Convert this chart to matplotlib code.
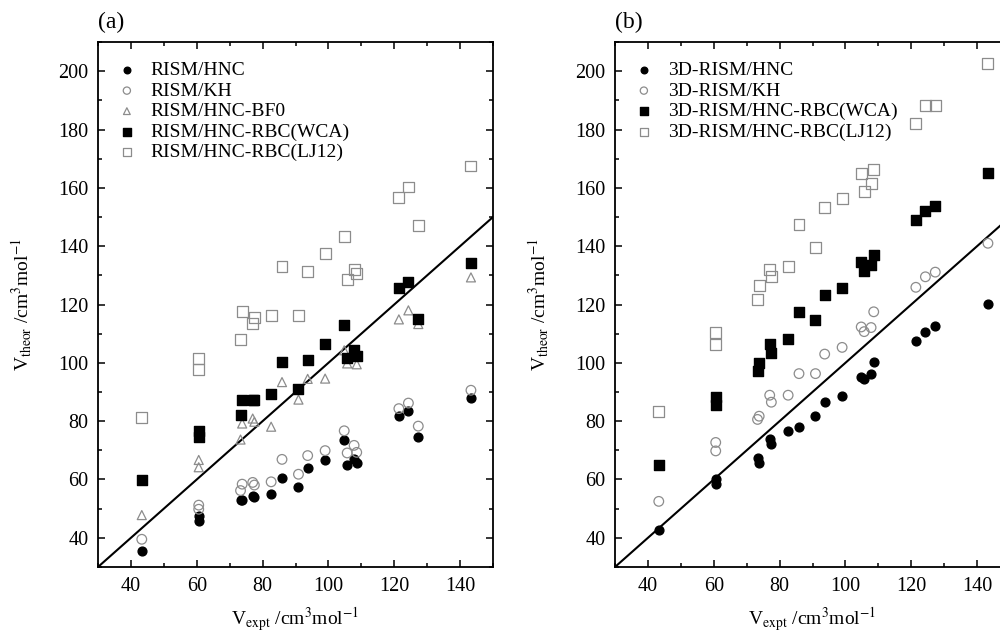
import matplotlib
matplotlib.use("Agg")
import matplotlib.pyplot as plt
from matplotlib.ticker import MultipleLocator

plt.rcParams['font.family'] = ['Liberation Serif', 'DejaVu Serif']
plt.rcParams['mathtext.fontset'] = 'stix'

# experimental molar volumes (same molecule set in both panels)
v_expt = [43.3, 60.6, 60.6, 73.3, 73.8, 77.0, 77.5, 82.6, 85.9, 90.9,
          93.7, 99.0, 104.8, 105.7, 107.8, 108.6, 121.4, 124.3, 127.3, 143.3]

# panel (a): 1D RISM
rism_hnc = [35.5, 47.4, 45.8, 52.8, 53.1, 54.2, 54.1, 54.9, 60.5, 57.3,
            64.0, 66.6, 73.5, 65.0, 66.9, 65.8, 81.9, 83.5, 74.5, 87.9]
rism_kh = [39.5, 51.2, 49.8, 56.2, 58.4, 59.0, 58.1, 59.2, 66.9, 61.8,
           68.2, 69.9, 76.7, 69.1, 71.7, 69.3, 84.3, 86.2, 78.3, 90.6]
rism_bf0 = [47.8, 66.7, 64.2, 73.7, 79.2, 80.9, 79.8, 78.1, 93.4, 87.4,
            94.5, 94.6, 104.3, 99.8, 102.5, 99.5, 114.9, 118.0, 113.3, 129.3]
rism_wca = [59.9, 76.7, 74.4, 82.2, 87.2, 87.2, 87.2, 89.4, 100.2, 90.9,
            100.9, 106.5, 113.1, 101.5, 104.5, 102.3, 125.7, 127.8, 115.0, 134.4]
rism_lj12 = [81.4, 101.4, 97.8, 108.1, 117.7, 113.5, 115.4, 116.3, 133.1, 116.3,
             131.2, 137.5, 143.3, 128.7, 132.0, 130.5, 156.6, 160.3, 147.2, 167.5]

# panel (b): 3D-RISM
rism3d_hnc = [42.6, 60.0, 58.4, 67.5, 65.5, 73.9, 72.1, 76.6, 78.1, 81.6,
              86.5, 88.6, 95.3, 94.5, 96.3, 100.2, 107.5, 110.5, 112.6, 120.1]
rism3d_kh = [52.5, 72.7, 69.8, 80.6, 81.7, 88.9, 86.5, 88.9, 96.3, 96.3,
             103.0, 105.3, 112.3, 110.7, 112.1, 117.5, 125.9, 129.5, 131.1, 141.0]
rism3d_wca = [65.1, 88.3, 85.7, 97.1, 99.9, 106.3, 103.5, 108.1, 117.3, 114.7,
              123.2, 125.6, 134.5, 131.4, 133.6, 137.0, 148.9, 152.2, 153.8, 165.1]
rism3d_lj12 = [83.4, 110.5, 106.3, 121.8, 126.6, 131.9, 129.5, 133.1, 147.4, 139.7,
               153.3, 156.5, 165.0, 158.7, 161.4, 166.3, 182.1, 188.1, 188.1, 202.7]

GRAY = '0.55'
styles = {
    'filled_circle': dict(marker='o', color='black', s=40),
    'open_circle': dict(marker='o', facecolors='none', edgecolors=GRAY, s=48, linewidths=0.9),
    'open_tri': dict(marker='^', facecolors='none', edgecolors=GRAY, s=42, linewidths=0.9),
    'filled_square': dict(marker='s', color='black', s=50),
    'open_square': dict(marker='s', facecolors='none', edgecolors=GRAY, s=62, linewidths=0.9),
}

panels = [
    ('(a)', [0.098, 0.1057, 0.395, 0.828], [
        (rism_hnc, 'filled_circle', 'RISM/HNC'),
        (rism_kh, 'open_circle', 'RISM/KH'),
        (rism_bf0, 'open_tri', 'RISM/HNC-BF0'),
        (rism_wca, 'filled_square', 'RISM/HNC-RBC(WCA)'),
        (rism_lj12, 'open_square', 'RISM/HNC-RBC(LJ12)'),
    ]),
    ('(b)', [0.615, 0.1057, 0.395, 0.828], [
        (rism3d_hnc, 'filled_circle', '3D-RISM/HNC'),
        (rism3d_kh, 'open_circle', '3D-RISM/KH'),
        (rism3d_wca, 'filled_square', '3D-RISM/HNC-RBC(WCA)'),
        (rism3d_lj12, 'open_square', '3D-RISM/HNC-RBC(LJ12)'),
    ]),
]

fig = plt.figure(figsize=(10, 6.34), dpi=100)

for tag, rect, series in panels:
    ax = fig.add_axes(rect)
    ax.plot([30, 150], [30, 150], color='black', lw=1.5, zorder=1)
    for vals, st, lab in series:
        ax.scatter(v_expt, vals, label=lab, zorder=2, **styles[st])
    ax.set_xlim(30, 150)
    ax.set_ylim(30, 210)
    ax.xaxis.set_major_locator(MultipleLocator(20))
    ax.xaxis.set_minor_locator(MultipleLocator(10))
    ax.yaxis.set_major_locator(MultipleLocator(20))
    ax.yaxis.set_minor_locator(MultipleLocator(10))
    ax.tick_params(which='both', direction='in', top=True, right=True, labelsize=14.5, width=1.1)
    ax.tick_params(which='major', length=5, pad=7)
    ax.tick_params(which='minor', length=3)
    for sp in ax.spines.values():
        sp.set_linewidth(1.3)
    ax.set_xlabel(r'V$_{\rm expt}$ /cm$^3$mol$^{-1}$', fontsize=14, labelpad=7)
    ax.set_ylabel(r'V$_{\rm theor}$ /cm$^3$mol$^{-1}$', fontsize=14, labelpad=17)
    ax.text(0.0, 1.017, tag, transform=ax.transAxes, fontsize=17, ha='left', va='bottom')
    ax.legend(loc='upper left', bbox_to_anchor=(0.014, 0.985), frameon=False, fontsize=14,
              labelspacing=0.15, handlelength=1.2, handletextpad=0.63,
              markerscale=0.75, borderaxespad=0.2)

fig.savefig('out.png', dpi=100)
